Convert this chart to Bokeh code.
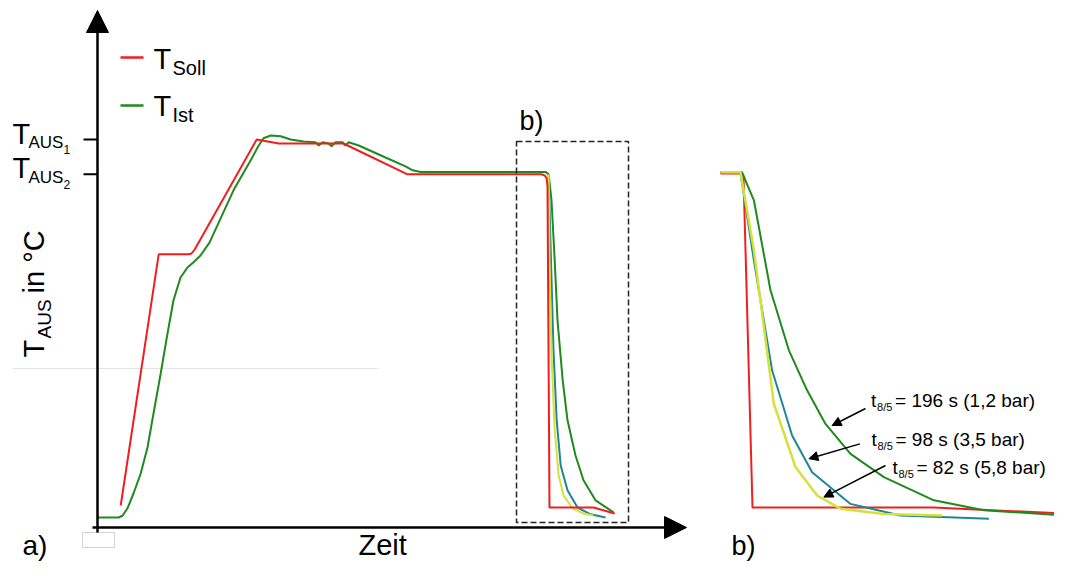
import math
from bokeh.plotting import figure
from bokeh.models import Range1d, Arrow, NormalHead, BoxAnnotation
from bokeh.core.properties import value
from bokeh.embed import file_html
from bokeh.resources import INLINE

# ---------------- data : panel a) (Zeit in arbitrary units, T_AUS in °C-like units)
T_AUS1 = 970
T_AUS2 = 883

soll_t = [5.8, 15.3, 22.8, 23.5, 24.3, 39.8, 45.3, 61.5, 77.5, 111.0, 111.8, 112.3, 112.5, 113.0, 124.0, 129.3]
soll_T = [55, 683, 683, 685, 695, 970, 960, 960, 883, 883, 880, 873, 853, 50, 50, 35]

ist_t = [0, 5.3, 6.3, 7.5, 9.0, 10.8, 12.5, 14.0, 15.8, 17.5, 19.0, 20.75, 22.5, 24.0, 25.75,
         28.0, 34.0, 38.3, 40.3, 41.5, 43.3, 45.8, 48.3, 51.5, 54.5, 55.3, 56.3, 57.8, 58.5,
         59.5, 61.3, 62.0, 62.8, 65.3, 72.0, 77.0, 78.8, 80.8, 112.0,
         112.8, 113.5, 114.3, 115.0, 116.3, 117.5, 119.5, 121.5, 124.5, 129.0]
ist_T = [25, 25, 30, 48, 85, 135, 200, 285, 385, 485, 568, 625, 650, 663, 680,
         712, 843, 918, 955, 973, 980, 978, 970, 965, 963, 955, 963, 960, 953,
         963, 963, 955, 963, 955, 925, 903, 893, 889, 889,
         883, 818, 668, 518, 368, 268, 180, 118, 68, 38]

# cooling curves in panel a) (3,5 bar and 5,8 bar)
a35_t = [112.8, 113.3, 114.0, 114.8, 115.8, 117.5, 120.0, 123.3, 127.0]
a35_T = [883, 693, 443, 268, 155, 93, 50, 33, 25]
a58_t = [112.8, 113.0, 113.5, 114.3, 115.3, 116.5, 118.8, 121.5, 124.0]
a58_T = [883, 668, 435, 243, 130, 80, 48, 35, 30]

# ---------------- data : panel b) (time since start of cooling)
b_soll_t = [-10, 0, 1.5, 6, 96.5, 161, 165]
b_soll_T = [885, 885, 878, 50, 50, 35, 0]
b12_t = [-10, 0.8, 6.7, 15.0, 24.2, 33.3, 42.5, 55.0, 71.7, 96.7, 121.7, 163.3]
b12_T = [888, 888, 818, 593, 443, 343, 259, 184, 126, 68, 43, 30]
b35_t = [-10, 0, 6.7, 15.8, 25.8, 35.8, 55.0, 80.0, 124.2]
b35_T = [886, 886, 668, 393, 230, 138, 59, 30, 22]
b58_t = [-10, 0, 6.7, 16.7, 27.5, 38.3, 50.0, 71.7, 100.8]
b58_T = [888, 888, 693, 309, 151, 80, 47, 34, 30]

t85_values = ["196 s", "98 s", "82 s"]
pressures = ["1,2 bar", "3,5 bar", "5,8 bar"]

# ---------------- styles
RED = "#f01e1e"
GREEN = "#1f8a1f"
TEAL = "#1f8790"
YELLOW = "#d6e03a"
FONT = value("Liberation Sans")
BASE_FIX = 0.34  # baseline correction (fraction of font size)

W, H = 1054, 562
p = figure(width=W, height=H, output_backend="svg", toolbar_location=None,
           x_axis_type=None, y_axis_type=None, min_border=0,
           x_range=Range1d(-24.25, 239.25), y_range=Range1d(-87.5, 1317.5))
p.extra_x_ranges = {"b": Range1d(-370, 157)}
p.outline_line_color = None
p.background_fill_color = "white"
p.border_fill_color = "white"


def txt(x, y, s, size, dx=0, dy=0, rng="default"):
    p.text(x=[x], y=[y], text=[s], x_range_name=rng, text_font=FONT,
           text_font_size=f"{size}px", text_baseline="alphabetic", text_align="left",
           x_offset=dx, y_offset=dy - BASE_FIX * size, text_color="black")


def rtxt(x, y, s, size):
    # rotated 90° (reads bottom to top); x in panel-a units (4 px per unit)
    p.text(x=[x - BASE_FIX * size / 4.0], y=[y], text=[s], angle=math.pi / 2, text_font=FONT,
           text_font_size=f"{size}px", text_baseline="alphabetic", text_align="left",
           text_color="black")


# faint artefacts of the original
p.segment(x0=[-21.25], y0=[397.5], x1=[70.25], y1=[397.5], line_color="#e4e4e4", line_width=1)
p.add_layout(BoxAnnotation(left=-3.75, right=4.25, bottom=-50, top=-12.5,
                           fill_alpha=0, line_color="#d2d2d2", line_alpha=1, line_width=1))

# ---- panel a) curves
p.line(ist_t, ist_T, line_color=GREEN, line_width=2)
p.line(a35_t, a35_T, line_color=TEAL, line_width=2)
p.line(a58_t, a58_T, line_color=YELLOW, line_width=2)
p.line(soll_t, soll_T, line_color=RED, line_width=2)

# axes with arrows
p.add_layout(Arrow(x_start=0, y_start=-12.5, x_end=0, y_end=1292.5, line_width=2.5,
                   end=NormalHead(size=22, fill_color="black", line_color="black", line_width=1)))
p.add_layout(Arrow(x_start=-1.25, y_start=0, x_end=147.25, y_end=0, line_width=2.5,
                   end=NormalHead(size=22, fill_color="black", line_color="black", line_width=1)))
p.segment(x0=[-3.5, -3.5], y0=[T_AUS1, T_AUS2], x1=[0, 0], y1=[T_AUS1, T_AUS2],
          line_color="black", line_width=2)

# tick labels T_AUS1 / T_AUS2
for tv, idx in ((T_AUS1, "1"), (T_AUS2, "2")):
    txt(-21.25, tv, "T", 29, dy=4)
    txt(-21.25, tv, "AUS", 17, dx=16, dy=9)
    txt(-21.25, tv, idx, 12, dx=51, dy=14)

# y-axis title (rotated)
rtxt(-13.5, 425, "T", 29)
rtxt(-11.75, 472.5, "AUS", 19)
rtxt(-13.5, 585, "in °C", 29)

# x-axis title and panel letters
txt(65.25, -67.5, "Zeit", 29)
txt(-18.75, -70, "a)", 28)
txt(105.5, 992.5, "b)", 27)
txt(-4.5, -70, "b)", 27, rng="b")

# legend
p.segment(x0=[5.75], y0=[1175], x1=[11.5], y1=[1175], line_color=RED, line_width=2.5)
p.segment(x0=[5.75], y0=[1055], x1=[11.5], y1=[1055], line_color=GREEN, line_width=2.5)
for yy, sub in ((1147.5, "Soll"), (1030, "Ist")):
    txt(14, yy, "T", 29)
    txt(14, yy, sub, 20, dx=19, dy=6)

# dashed zoom box
p.add_layout(BoxAnnotation(left=104.75, right=132.75, bottom=12.5, top=965,
                           fill_alpha=0, line_color="#222222", line_alpha=1,
                           line_width=1.5, line_dash="6 3"))

# ---- panel b) curves
p.line(b_soll_t, b_soll_T, x_range_name="b", line_color=RED, line_width=2)
p.line(b12_t, b12_T, x_range_name="b", line_color=GREEN, line_width=2)
p.line(b35_t, b35_T, x_range_name="b", line_color=TEAL, line_width=2)
p.line(b58_t, b58_T, x_range_name="b", line_color=YELLOW, line_width=2.5)

# annotations t8/5
ann_x = [65.3, 65.5, 76.0]
ann_y = [301, 205, 135]
arrows = [((62.5, 297.5), (45.8, 255)), ((59.7, 209), (34.2, 172)), ((72.5, 155), (41.7, 76))]
for i in range(3):
    (xs, ys), (xe, ye) = arrows[i]
    p.add_layout(Arrow(x_start=xs, y_start=ys, x_end=xe, y_end=ye, x_range_name="b",
                       line_width=1.5, line_color="black",
                       end=NormalHead(size=9, fill_color="black", line_color="black", line_width=1)))
    txt(ann_x[i], ann_y[i], "t", 19, rng="b")
    txt(ann_x[i], ann_y[i], "8/5", 11, dx=6, dy=4, rng="b")
    txt(ann_x[i], ann_y[i], "= " + t85_values[i] + " (" + pressures[i] + ")", 19, dx=24, rng="b")

open("out.html", "w").write(file_html(p, INLINE))
